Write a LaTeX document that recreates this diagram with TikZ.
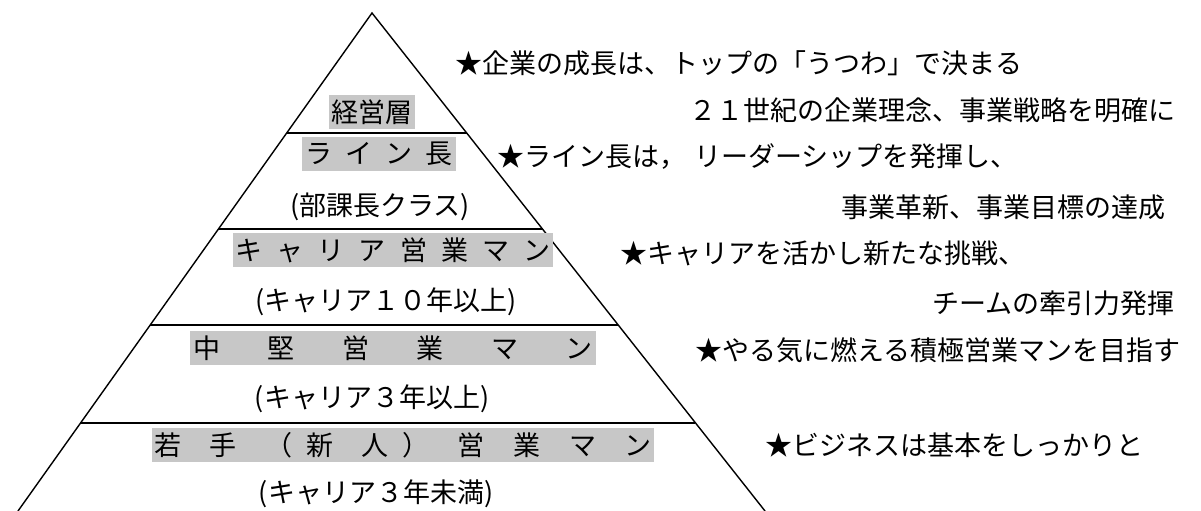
\documentclass[tikz,border=0pt]{standalone}
\usepackage{fontspec}
\setmainfont{Noto Sans CJK JP}
\usetikzlibrary{calc}
\newcommand\chgap[1]{\hspace{#1em}}
\begin{document}
\begin{tikzpicture}[x=0.025cm,y=-0.025cm,
  every node/.style={font=\fontsize{19.2}{23}\selectfont, inner sep=0pt},
  band/.style={fill=black!22, inner xsep=2pt, minimum height=24pt},
  lbl/.style={},
  note/.style={anchor=west},
  edge/.style={line width=1pt},
  divider/.style={line width=1.4pt}]
\useasboundingbox (0,0) rectangle (1201,511);
\coordinate (A) at (372,13);
\coordinate (L) at (18,511);
\coordinate (R) at (765,511);
\draw[edge] (L) -- (A) -- (R);
\foreach \t [count=\i] in {0.241,0.434,0.627,0.823} {
  \draw[divider] ($(A)!\t!(L)$) coordinate (dl\i) -- ($(A)!\t!(R)$) coordinate (dr\i);
}
% pyramid labels
\node[band] (p1) at (372,112) {経営層};
\node[band] (p2) at (379,154) {ラ\chgap{0.49}イ\chgap{0.49}ン\chgap{0.49}長};
\node[lbl] (p2s) at (380,207) {(部課長クラス)};
\node[band] (p3) at (393,250) {キ\chgap{0.52}ャ\chgap{0.52}リ\chgap{0.52}ア\chgap{0.52}営\chgap{0.52}業\chgap{0.52}マ\chgap{0.52}ン};
\node[lbl] (p3s) at (386,302) {(キャリア１０年以上)};
\node[band] (p4) at (393,348) {中\chgap{1.76}堅\chgap{1.76}営\chgap{1.76}業\chgap{1.76}マ\chgap{1.76}ン};
\node[lbl] (p4s) at (372,399) {(キャリア３年以上)};
\node[band] (p5) at (403,445) {若\chgap{1.06}手\chgap{1.06}（\chgap{0.5}新\chgap{1.06}人\chgap{0.5}）\chgap{1.06}営\chgap{1.06}業\chgap{1.06}マ\chgap{1.06}ン};
\node[lbl] (p5s) at (376,494) {(キャリア３年未満)};
% notes
\node[note] (t1) at (455,63) {★企業の成長は、トップの「うつわ」で決まる};
\node[note] (t2) at (689,110) {２１世紀の企業理念、事業戦略を明確に};
\node[note] (t3) at (497,157) {★ライン長は，\hspace{0.3em}リーダーシップを発揮し、};
\node[note] (t4) at (841,207) {事業革新、事業目標の達成};
\node[note] (t5) at (620,253) {★キャリアを活かし新たな挑戦、};
\node[note] (t6) at (932,303) {チームの牽引力発揮};
\node[note] (t7) at (695,350) {★やる気に燃える積極営業マンを目指す};
\node[note] (t8) at (765,445) {★ビジネスは基本をしっかりと};
\end{tikzpicture}
\end{document}
